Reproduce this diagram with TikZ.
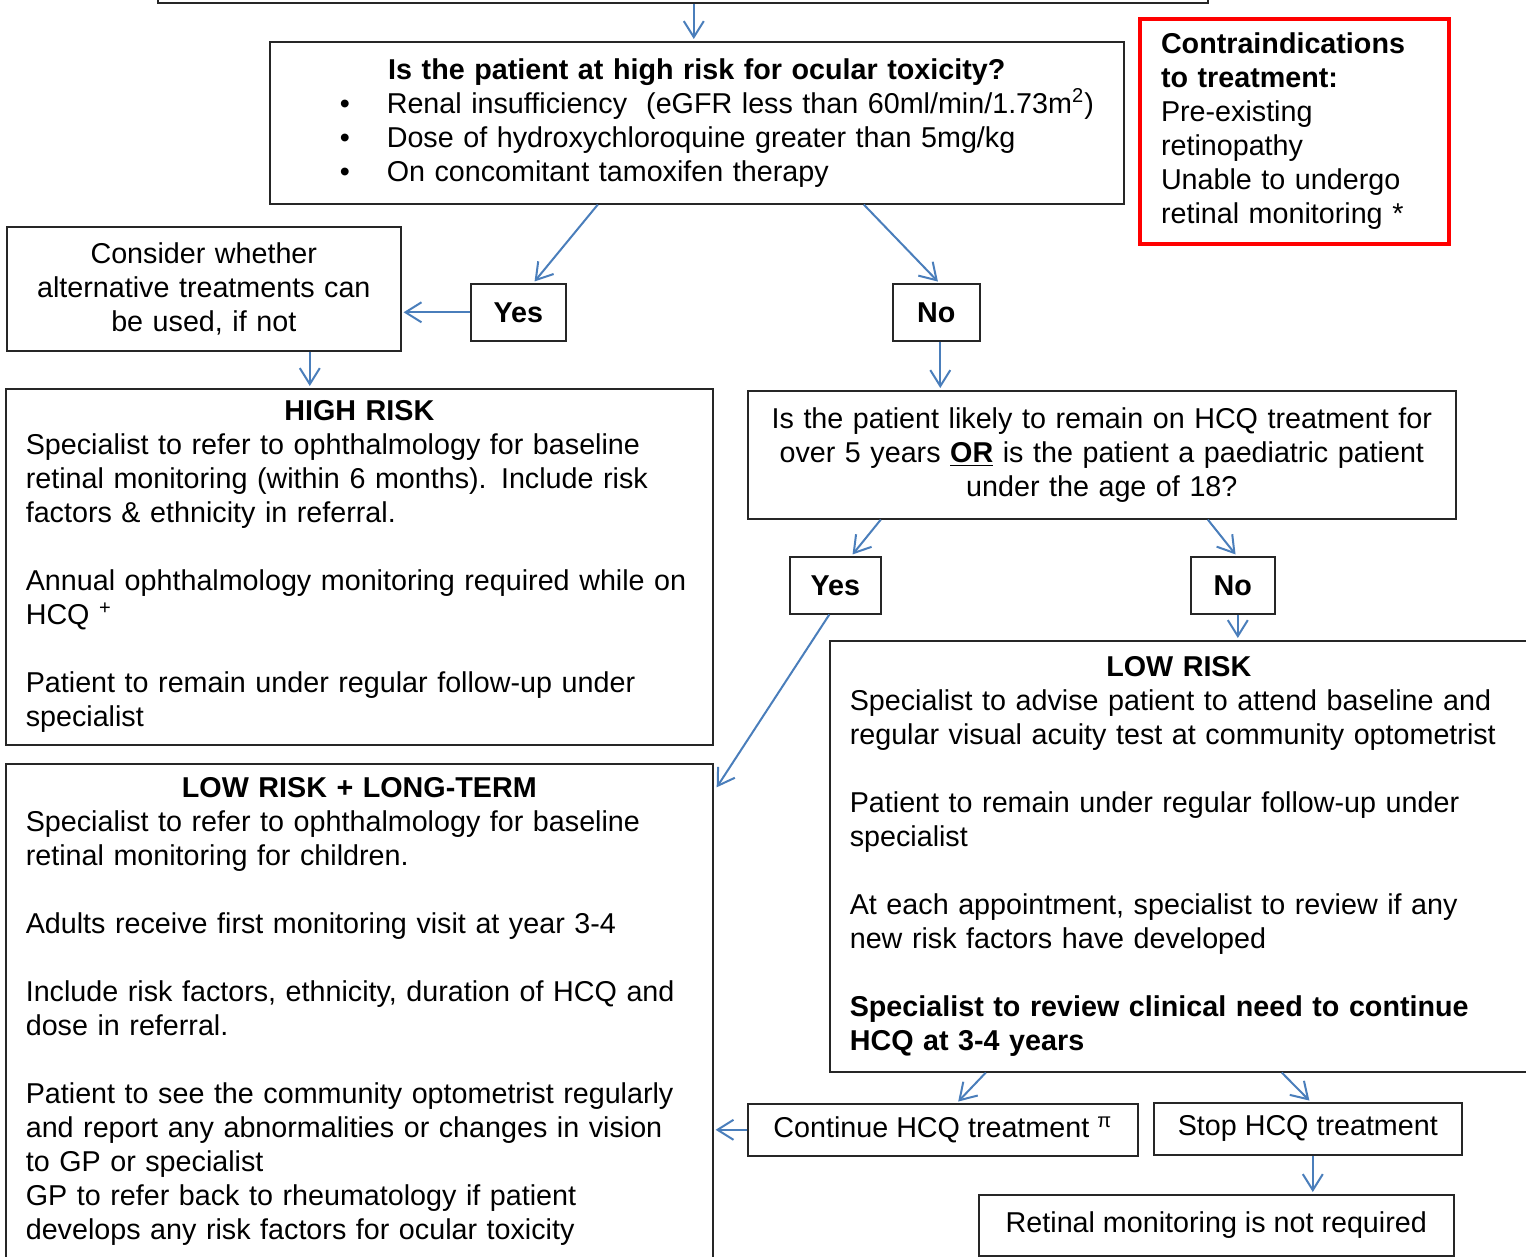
\documentclass[tikz,border=0pt]{standalone}
\usepackage{fontspec}
\setmainfont{Liberation Sans}
\usetikzlibrary{arrows.meta,calc}
\definecolor{pilblaa}{HTML}{4A7EBB}
\newcommand{\prik}[1]{\hspace*{25pt}\makebox[23.5pt][l]{\textbullet}\mbox{#1}}

\begin{document}
\begin{tikzpicture}[
    x=0.5pt, y=-0.5pt,
    every node/.style={font=\fontsize{14.35pt}{17pt}\selectfont},
    kasse/.style={rectangle, draw=black!85, line width=0.8pt, anchor=north west,
        inner xsep=10pt, inner ysep=0pt},
    tekst/.style={kasse, align=left},
    midt/.style={kasse, align=center},
    svar/.style={kasse, align=center, font=\fontsize{14.35pt}{17pt}\selectfont\bfseries},
    rodkasse/.style={kasse, draw=red, line width=2pt, inner xsep=10.5pt, align=left},
    pil/.style={draw=pilblaa, line width=1pt,
        -{Straight Barb[length=8pt,width=10pt]}, shorten >=1pt}
    ]
\useasboundingbox (0,0) rectangle (1526,1257);

%box above, cut off by the page
\node[kasse, anchor=south west, minimum width=525pt, minimum height=40pt] (topp) at (157,4) {};

%first question
\node[tekst, text width=407pt, minimum width=427pt, minimum height=81pt] (spm1) at (269,41) {
    \makebox[\linewidth]{\textbf{Is the patient at high risk for ocular toxicity?}}\\
    \prik{Renal insufficiency\ \ (eGFR less than 60ml/min/1.73m\textsuperscript{2})}\\
    \prik{Dose of hydroxychloroquine greater than 5mg/kg}\\
    \prik{On concomitant tamoxifen therapy}};

\node[rodkasse, text width=133.5pt, minimum width=154.5pt, minimum height=112.5pt] (kontra) at (1138,17) {
    \textbf{Contraindications}\\
    \textbf{to treatment:}\\
    Pre-existing\\
    retinopathy\\
    Unable to undergo\\
    retinal monitoring *};

\node[svar, minimum width=47.5pt, minimum height=28.5pt] (ja1) at (470,283) {Yes};
\node[svar, minimum width=43.5pt, minimum height=28.5pt] (nej1) at (892,283) {No};

\node[midt, text width=177pt, minimum width=197pt, minimum height=62pt] (overvej) at (6,226) {
    Consider whether\\ alternative treatments can\\ be used, if not};

%high risk
\node[tekst, text width=333.5pt, minimum width=353.5pt, minimum height=178pt] (hoej) at (5,388) {
    \makebox[\linewidth]{\textbf{HIGH RISK}}\\
    Specialist to refer to ophthalmology for baseline\\
    retinal monitoring (within 6 months). Include risk\\
    factors \& ethnicity in referral.\\[17pt]
    Annual ophthalmology monitoring required while on\\
    HCQ \textsuperscript{+}\\[17pt]
    Patient to remain under regular follow-up under\\
    specialist};

%second question
\node[midt, text width=334pt, minimum width=354pt, minimum height=64pt] (spm2) at (747,390) {
    Is the patient likely to remain on HCQ treatment for\\
    over 5 years \textbf{\underline{OR}} is the patient a paediatric patient\\
    under the age of 18?};

\node[svar, minimum width=45.5pt, minimum height=28.5pt] (ja2) at (789,556) {Yes};
\node[svar, minimum width=42pt, minimum height=28.5pt] (nej2) at (1190,556) {No};

%low risk
\node[tekst, text width=329pt, minimum width=349pt, minimum height=215.5pt] (lav) at (829,640) {
    \makebox[\linewidth]{\textbf{LOW RISK}}\\
    Specialist to advise patient to attend baseline and\\
    regular visual acuity test at community optometrist\\[17pt]
    Patient to remain under regular follow-up under\\
    specialist\\[17pt]
    At each appointment, specialist to review if any\\
    new risk factors have developed\\[17pt]
    \textbf{Specialist to review clinical need to continue}\\
    \textbf{HCQ at 3-4 years}};

%low risk, long term
\node[tekst, text width=333.5pt, minimum width=353.5pt, minimum height=248pt] (lavlang) at (5,763) {
    \makebox[\linewidth]{\textbf{LOW RISK + LONG-TERM}}\\
    Specialist to refer to ophthalmology for baseline\\
    retinal monitoring for children.\\[17pt]
    Adults receive first monitoring visit at year 3-4\\[17pt]
    Include risk factors, ethnicity, duration of HCQ and\\
    dose in referral.\\[17pt]
    Patient to see the community optometrist regularly\\
    and report any abnormalities or changes in vision\\
    to GP or specialist\\
    GP to refer back to rheumatology if patient\\
    develops any risk factors for ocular toxicity};

\node[midt, minimum width=195pt, minimum height=26pt] (fortsaet) at (747,1103) {Continue HCQ treatment \textsuperscript{π}};
\node[midt, minimum width=154pt, minimum height=26pt] (stop) at (1153,1102) {Stop HCQ treatment};
\node[midt, minimum width=237.5pt, minimum height=30.5pt] (retinal) at (978,1194) {Retinal monitoring is not required};

%arrows
\draw[pil] ($(topp.south)+(11,0)$) -- ($(spm1.north)+(-3,0)$);
\draw[pil] ($(spm1.south)+(-99,0)$) -- ($(ja1.north)+(15,0)$);
\draw[pil] ($(spm1.south)+(167,0)$) -- ($(nej1.north)+(3,0)$);
\draw[pil] (ja1.west) -- (ja1.west -| overvej.east);
\draw[pil] ($(overvej.south)+(106,0)$) coordinate (o1) -- (o1 |- hoej.north);
\draw[pil] ($(nej1.south)+(4,0)$) coordinate (n1) -- (n1 |- spm2.north);
\draw[pil] ($(spm2.south)+(-221,0)$) -- ($(ja2.north)+(16,0)$);
\draw[pil] ($(spm2.south)+(106,0)$) -- ($(nej2.north)+(4,0)$);
\draw[pil] ($(ja2.south)+(-6,0)$) -- ($(lavlang.north east)+(2,26)$);
\draw[pil] ($(nej2.south)+(5,0)$) coordinate (n2) -- (n2 |- lav.north);
\draw[pil] ($(lav.south)+(-193,0)$) -- ($(fortsaet.north)+(14,0)$);
\draw[pil] ($(lav.south)+(103,0)$) -- ($(stop.north)+(3,0)$);
\draw[pil] ($(stop.south)+(5,0)$) coordinate (s1) -- (s1 |- retinal.north);
\draw[pil] (fortsaet.west) -- (fortsaet.west -| lavlang.east);
\end{tikzpicture}
\end{document}
